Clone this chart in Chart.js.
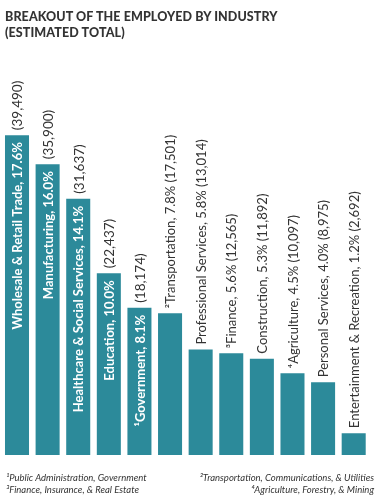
<!DOCTYPE html>
<html>
<head>
<meta charset="utf-8">
<script src="https://cdn.jsdelivr.net/npm/chart.js@4/dist/chart.umd.min.js"></script>
<style>
  html, body { margin: 0; padding: 0; background: #fff; width: 378px; height: 500px; overflow: hidden; }
  #wrap { position: relative; width: 378px; height: 500px; }
  #c { position: absolute; left: 0; top: 0; }
  .title { position: absolute; left: 5px; top: 9px; font-family: Lato, sans-serif; font-weight: 900; font-size: 12.5px; line-height: 16px; color: #333; letter-spacing: 0.1px; }
  .fn { position: absolute; font-family: Lato, sans-serif; font-style: italic; font-size: 9.5px; line-height: 12px; color: #333; }
</style>
</head>
<body>
<div id="wrap">
  <canvas id="c" width="378" height="500"></canvas>
  <div class="title">BREAKOUT OF THE EMPLOYED BY INDUSTRY<br>(ESTIMATED TOTAL)</div>
  <div class="fn" style="left:6px; top:472px;">¹Public Administration, Government<br>³Finance, Insurance, &amp; Real Estate</div>
  <div class="fn" style="right:4px; top:472px; text-align:right;">²Transportation, Communications, &amp; Utilities<br>⁴Agriculture, Forestry, &amp; Mining</div>
</div>
<script>
const categories = ["Wholesale & Retail Trade", "Manufacturing", "Healthcare & Social Services", "Education", "¹Government", "²Transportation", "Professional Services", "³Finance", "Construction", "⁴Agriculture", "Personal Services", "Entertainment & Recreation"];
const percents = ["17.6%", "16.0%", "14.1%", "10.0%", "8.1%", "7.8%", "5.8%", "5.6%", "5.3%", "4.5%", "4.0%", "1.2%"];
const values = [39490, 35900, 31637, 22437, 18174, 17501, 13014, 12565, 11892, 10097, 8975, 2692];
const countLabels = ["(39,490)", "(35,900)", "(31,637)", "(22,437)", "(18,174)", "(17,501)", "(13,014)", "(12,565)", "(11,892)", "(10,097)", "(8,975)", "(2,692)"];
const insideCount = 5;

const BAR = '#2c8a9a';
const TEXT = '#333333';

const labelPlugin = {
  id: 'barLabels',
  afterDatasetsDraw(chart) {
    const ctx = chart.ctx;
    const meta = chart.getDatasetMeta(0);
    meta.data.forEach((bar, i) => {
      const x = bar.x + 1;
      const top = bar.y;
      ctx.save();
      ctx.translate(x, top);
      ctx.rotate(-Math.PI / 2);
      ctx.textBaseline = 'middle';
      if (i < insideCount) {
        ctx.font = 'bold 13px Lato, sans-serif';
        ctx.fillStyle = '#ffffff';
        ctx.textAlign = 'right';
        ctx.fillText(categories[i] + ', ' + percents[i], -7, 0);
        ctx.font = '13.5px Lato, sans-serif';
        ctx.fillStyle = TEXT;
        ctx.textAlign = 'left';
        ctx.fillText(countLabels[i], 5, 0);
      } else {
        ctx.font = '13px Lato, sans-serif';
        ctx.fillStyle = TEXT;
        ctx.textAlign = 'left';
        ctx.fillText(categories[i] + ', ' + percents[i] + ' ' + countLabels[i], 5, 0);
      }
      ctx.restore();
    });
  }
};

new Chart(document.getElementById('c'), {
  type: 'bar',
  data: {
    labels: categories,
    datasets: [{ data: values, backgroundColor: BAR, borderWidth: 0, barPercentage: 0.785, categoryPercentage: 1 }]
  },
  options: {
    responsive: false,
    animation: false,
    layout: { padding: { left: 1.7, right: 9, top: 50, bottom: 45 } },
    plugins: { legend: { display: false }, tooltip: { enabled: false }, title: { display: false } },
    scales: {
      x: { display: false, offset: true },
      y: { display: false, min: 0, max: 50000 }
    }
  },
  plugins: [labelPlugin]
});
</script>
</body>
</html>
